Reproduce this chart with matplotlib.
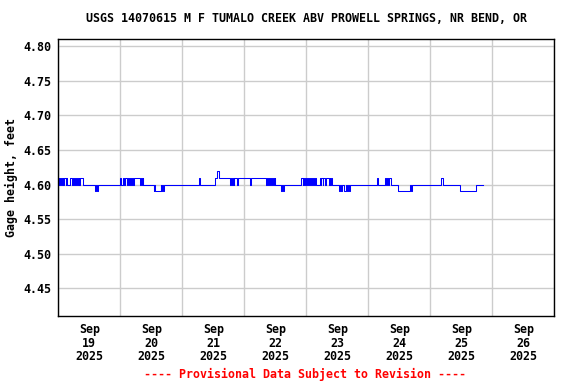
import matplotlib
matplotlib.use("Agg")
import matplotlib.pyplot as plt
import matplotlib.dates as mdates
import numpy as np
import pandas as pd

# Change points: hours since 2025-09-19 00:00 and gage height (ft) from that time on
change_hours = [
    0.0, 0.3, 0.6, 1.2, 1.5, 1.8, 2.0, 2.3, 2.8, 3.0, 3.3, 4.5, 5.2, 5.5, 6.0, 6.3, 6.8, 7.2, 7.6, 7.9, 8.2, 8.5, 9.6,
    14.1, 14.4, 15.0, 15.4,
    23.9, 24.2, 24.9, 25.4, 25.9, 26.6, 27.0, 27.3, 27.7, 28.1, 28.7, 29.0, 29.3, 31.7, 32.0, 32.4, 32.6, 32.9,
    36.9, 37.2, 37.6, 39.6, 39.9, 40.3, 40.6, 41.1,
    54.6, 54.9,
    60.8, 61.5, 62.1, 66.5, 66.8, 67.3, 67.6, 67.9, 68.1, 69.3, 69.6, 74.3, 74.6,
    80.5, 80.8, 81.0, 81.5, 81.9, 82.2, 82.7, 83.0, 83.4, 83.7, 84.0,
    86.3, 86.7, 87.1, 87.5,
    94.0, 94.6, 94.8, 95.3, 95.5, 96.0, 96.2, 96.8, 97.0, 97.6, 97.8, 98.3, 98.5, 98.9, 99.5, 99.9,
    101.2, 101.6, 101.8, 102.4, 102.6, 103.4, 103.6, 104.6, 105.0, 105.3, 105.6, 105.9,
    108.5, 109.0, 109.3, 110.0, 110.4, 111.3, 111.6, 112.2, 112.5, 113.1,
    123.4, 123.8,
    126.4, 126.7, 127.1, 127.5, 128.2, 128.7,
    131.6, 136.3, 136.6, 136.9,
    148.3, 148.8,
    155.6, 161.8, 164.4,
]
change_values = [
    4.60, 4.61, 4.60, 4.61, 4.60, 4.61, 4.60, 4.61, 4.60, 4.61, 4.60, 4.61, 4.60, 4.61, 4.60, 4.61, 4.60, 4.61, 4.60, 4.61, 4.60, 4.61, 4.60,
    4.59, 4.60, 4.59, 4.60,
    4.61, 4.60, 4.61, 4.60, 4.61, 4.60, 4.61, 4.60, 4.61, 4.60, 4.61, 4.60, 4.61, 4.60, 4.61, 4.60, 4.61, 4.60,
    4.59, 4.60, 4.59, 4.60, 4.59, 4.60, 4.59, 4.60,
    4.61, 4.60,
    4.61, 4.62, 4.61, 4.60, 4.61, 4.60, 4.61, 4.60, 4.61, 4.60, 4.61, 4.60, 4.61,
    4.60, 4.61, 4.60, 4.61, 4.60, 4.61, 4.60, 4.61, 4.60, 4.61, 4.60,
    4.59, 4.60, 4.59, 4.60,
    4.61, 4.60, 4.61, 4.60, 4.61, 4.60, 4.61, 4.60, 4.61, 4.60, 4.61, 4.60, 4.61, 4.60, 4.61, 4.60,
    4.61, 4.60, 4.61, 4.60, 4.61, 4.60, 4.61, 4.60, 4.61, 4.60, 4.61, 4.60,
    4.59, 4.60, 4.59, 4.60, 4.59, 4.60, 4.59, 4.60, 4.59, 4.60,
    4.61, 4.60,
    4.61, 4.60, 4.61, 4.60, 4.61, 4.60,
    4.59, 4.60, 4.59, 4.60,
    4.61, 4.60,
    4.59, 4.60, 4.60,
]

title_text = "USGS 14070615 M F TUMALO CREEK ABV PROWELL SPRINGS, NR BEND, OR"
y_label = "Gage height, feet"
footer_text = "---- Provisional Data Subject to Revision ----"
y_ticks = [4.45, 4.50, 4.55, 4.60, 4.65, 4.70, 4.75, 4.80]
day_labels = ["Sep\n19\n2025", "Sep\n20\n2025", "Sep\n21\n2025", "Sep\n22\n2025",
              "Sep\n23\n2025", "Sep\n24\n2025", "Sep\n25\n2025", "Sep\n26\n2025"]

start = pd.Timestamp("2025-09-19 00:00")
times = [start + pd.Timedelta(hours=h) for h in change_hours]

font = {"family": "DejaVu Sans Mono", "weight": "bold", "size": 8.4}

fig = plt.figure(figsize=(5.76, 3.84), dpi=100)
ax = fig.add_axes([58.3 / 576, 1 - 316 / 384, (554.3 - 58.3) / 576, (316 - 39.3) / 384])

ax.plot(times, change_values, drawstyle="steps-post", color="#0000ff", linewidth=0.75)

ax.set_xlim(start, start + pd.Timedelta(days=8))
ax.set_ylim(4.41, 4.81)

midnights = [start + pd.Timedelta(days=d) for d in range(9)]
noons = [start + pd.Timedelta(days=d, hours=12) for d in range(8)]
ax.set_xticks(midnights)
ax.set_xticklabels([])
ax.set_xticks(noons, minor=True)
ax.set_xticklabels(day_labels, minor=True, fontdict=font, linespacing=1.07)
ax.tick_params(axis="x", which="both", length=0, pad=5)
ax.tick_params(axis="y", length=0, pad=5)

ax.set_yticks(y_ticks)
ax.set_yticklabels([f"{v:.2f}" for v in y_ticks], fontdict=font)

ax.grid(True, which="major", color="#cccccc", linewidth=1.0)
ax.set_axisbelow(True)
for s in ax.spines.values():
    s.set_color("black")
    s.set_linewidth(1.0)

ax.set_ylabel(y_label, fontdict=font, labelpad=4)
fig.text(306 / 576, 1 - 19 / 384, title_text, ha="center", va="center", fontdict=font)
fig.text(305 / 576, 1 - 374.5 / 384, footer_text, ha="center", va="center", color="red", fontdict=font)

fig.savefig("out.png", dpi=100)
